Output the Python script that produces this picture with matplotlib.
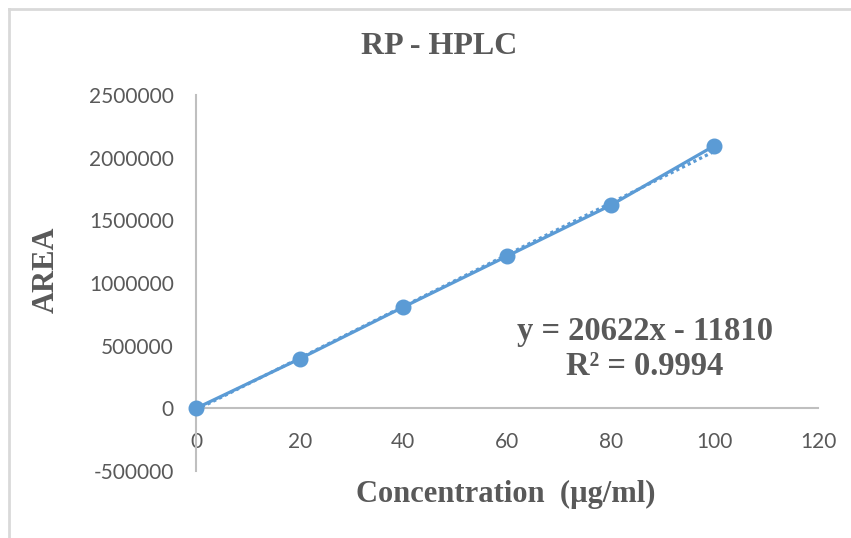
import numpy as np
import matplotlib
matplotlib.use('Agg')
import matplotlib.pyplot as plt
from matplotlib.lines import Line2D

# данные калибровки RP-HPLC
concentration = [0, 20, 40, 60, 80, 100]
area = [0, 395000, 808000, 1214000, 1620000, 2095000]

# линия тренда (как в подписи)
slope = 20622
intercept = -11810
r_squared = 0.9994

x_ticks = [0, 20, 40, 60, 80, 100, 120]
y_ticks = [-500000, 0, 500000, 1000000, 1500000, 2000000, 2500000]

blue = '#5b9bd5'
grey_text = '#595959'
axis_grey = '#bfbfbf'

fig = plt.figure(figsize=(8.51, 5.38), dpi=100)
ax = fig.add_axes([196 / 851, 1 - 471 / 538, (818 - 196) / 851, (471 - 95) / 538])

# тренд
xt = np.array([concentration[0], concentration[-1]])
ax.plot(xt, slope * xt + intercept, color=blue, lw=2.3, ls=(0, (1, 1)), zorder=2)
# точки
ax.plot(concentration, area, color=blue, lw=2.3, marker='o', markersize=10.5, zorder=3,
        clip_on=False)

ax.set_xlim(0, 120)
ax.set_ylim(-500000, 2500000)
ax.set_xticks(x_ticks)
ax.set_yticks(y_ticks)
ax.set_xticklabels([str(v) for v in x_ticks])
ax.set_yticklabels([str(v) for v in y_ticks])

for s in ['top', 'right']:
    ax.spines[s].set_visible(False)
ax.spines['bottom'].set_position(('data', 0))
ax.spines['bottom'].set_color(axis_grey)
ax.spines['left'].set_color(axis_grey)
ax.spines['bottom'].set_linewidth(1.5)
ax.spines['left'].set_linewidth(1.5)

ax.tick_params(axis='x', length=0, pad=17, labelsize=15, labelcolor=grey_text)
ax.tick_params(axis='y', length=0, pad=16, labelsize=15, labelcolor=grey_text)
for lab in ax.get_xticklabels() + ax.get_yticklabels():
    lab.set_family('Lato')

serif = 'Liberation Serif'
fig.text(439 / 851, 1 - 47 / 538, 'RP - HPLC', ha='center', va='center',
         fontsize=23, fontweight='bold', family=serif, color=grey_text)
fig.text(46 / 851, 1 - 270 / 538, 'AREA', ha='center', va='center', rotation=90,
         fontsize=22, fontweight='bold', family=serif, color=grey_text)
fig.text(506 / 851, 1 - 494 / 538, 'Concentration  (µg/ml)', ha='center', va='center',
         fontsize=22, fontweight='bold', family=serif, color=grey_text)
ax.text(645 / 851, 1 - 349 / 538,
        'y = %dx - %d\nR² = %.4f' % (slope, -intercept, r_squared),
        transform=fig.transFigure, ha='center', va='center', linespacing=1.15,
        fontsize=23.5, fontweight='bold', family=serif, color=grey_text)

# рамка диаграммы
fig.add_artist(Line2D([9 / 851, 1], [1 - 9 / 538, 1 - 9 / 538], transform=fig.transFigure,
                      color='#d9d9d9', lw=2))
fig.add_artist(Line2D([9 / 851, 9 / 851], [0, 1 - 9 / 538], transform=fig.transFigure,
                      color='#d9d9d9', lw=2))

fig.savefig('out.png', dpi=100)
